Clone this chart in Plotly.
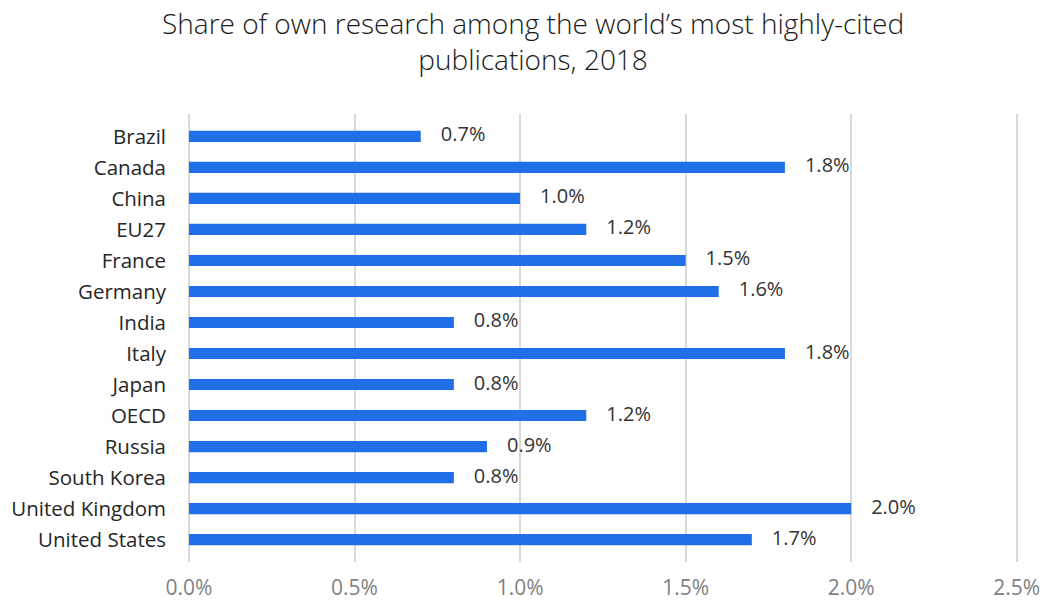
import plotly.graph_objects as go

countries = ["Brazil", "Canada", "China", "EU27", "France", "Germany", "India", "Italy",
             "Japan", "OECD", "Russia", "South Korea", "United Kingdom", "United States"]
shares = [0.7, 1.8, 1.0, 1.2, 1.5, 1.6, 0.8, 1.8, 0.8, 1.2, 0.9, 0.8, 2.0, 1.7]
tick_vals = [0.0, 0.5, 1.0, 1.5, 2.0, 2.5]
title = "Share of own research among the world’s most highly-cited<br>publications, 2018"

font = "Open Sans, Noto Sans, sans-serif"

fig = go.Figure()
fig.add_trace(go.Bar(
    x=shares, y=countries, orientation="h",
    marker=dict(color="#1F70E8", line=dict(width=0)),
    width=0.36,
    hoverinfo="x+y",
))
fig.add_trace(go.Scatter(
    x=shares, y=countries, mode="text",
    text=[f"\u2002\u2002{v:.1f}%" for v in shares],
    textposition="middle right",
    textfont=dict(family=font, size=20, color="#333333"),
    cliponaxis=False, hoverinfo="skip",
))

fig.update_layout(
    width=1046, height=603,
    margin=dict(l=189, r=26, t=114, b=41, autoexpand=False),
    plot_bgcolor="white", paper_bgcolor="white",
    showlegend=False,
    font=dict(family=font),
    annotations=[dict(text=title, xref="paper", yref="paper", x=0.414, y=1.163,
                      xanchor="center", yanchor="middle", showarrow=False,
                      font=dict(family=font, size=28, color="#1a1a1a", weight=300))],
)
fig.update_xaxes(range=[0, 2.51], tickvals=tick_vals, ticktext=[f"{v:.1f}%" for v in tick_vals],
                 showgrid=True, gridcolor="#D9D9D9", gridwidth=2,
                 zeroline=True, zerolinecolor="#D9D9D9", zerolinewidth=2,
                 showline=False, ticks="", ticklabelstandoff=11, automargin=False,
                 tickfont=dict(family=font, size=21, color="#7F7F7F"))
fig.update_yaxes(autorange="reversed", showgrid=False, showline=False, ticks="",
                 ticklabelstandoff=22, automargin=False,
                 tickfont=dict(family=font, size=20.5, color="#262626"))

fig.write_html("out.html")
